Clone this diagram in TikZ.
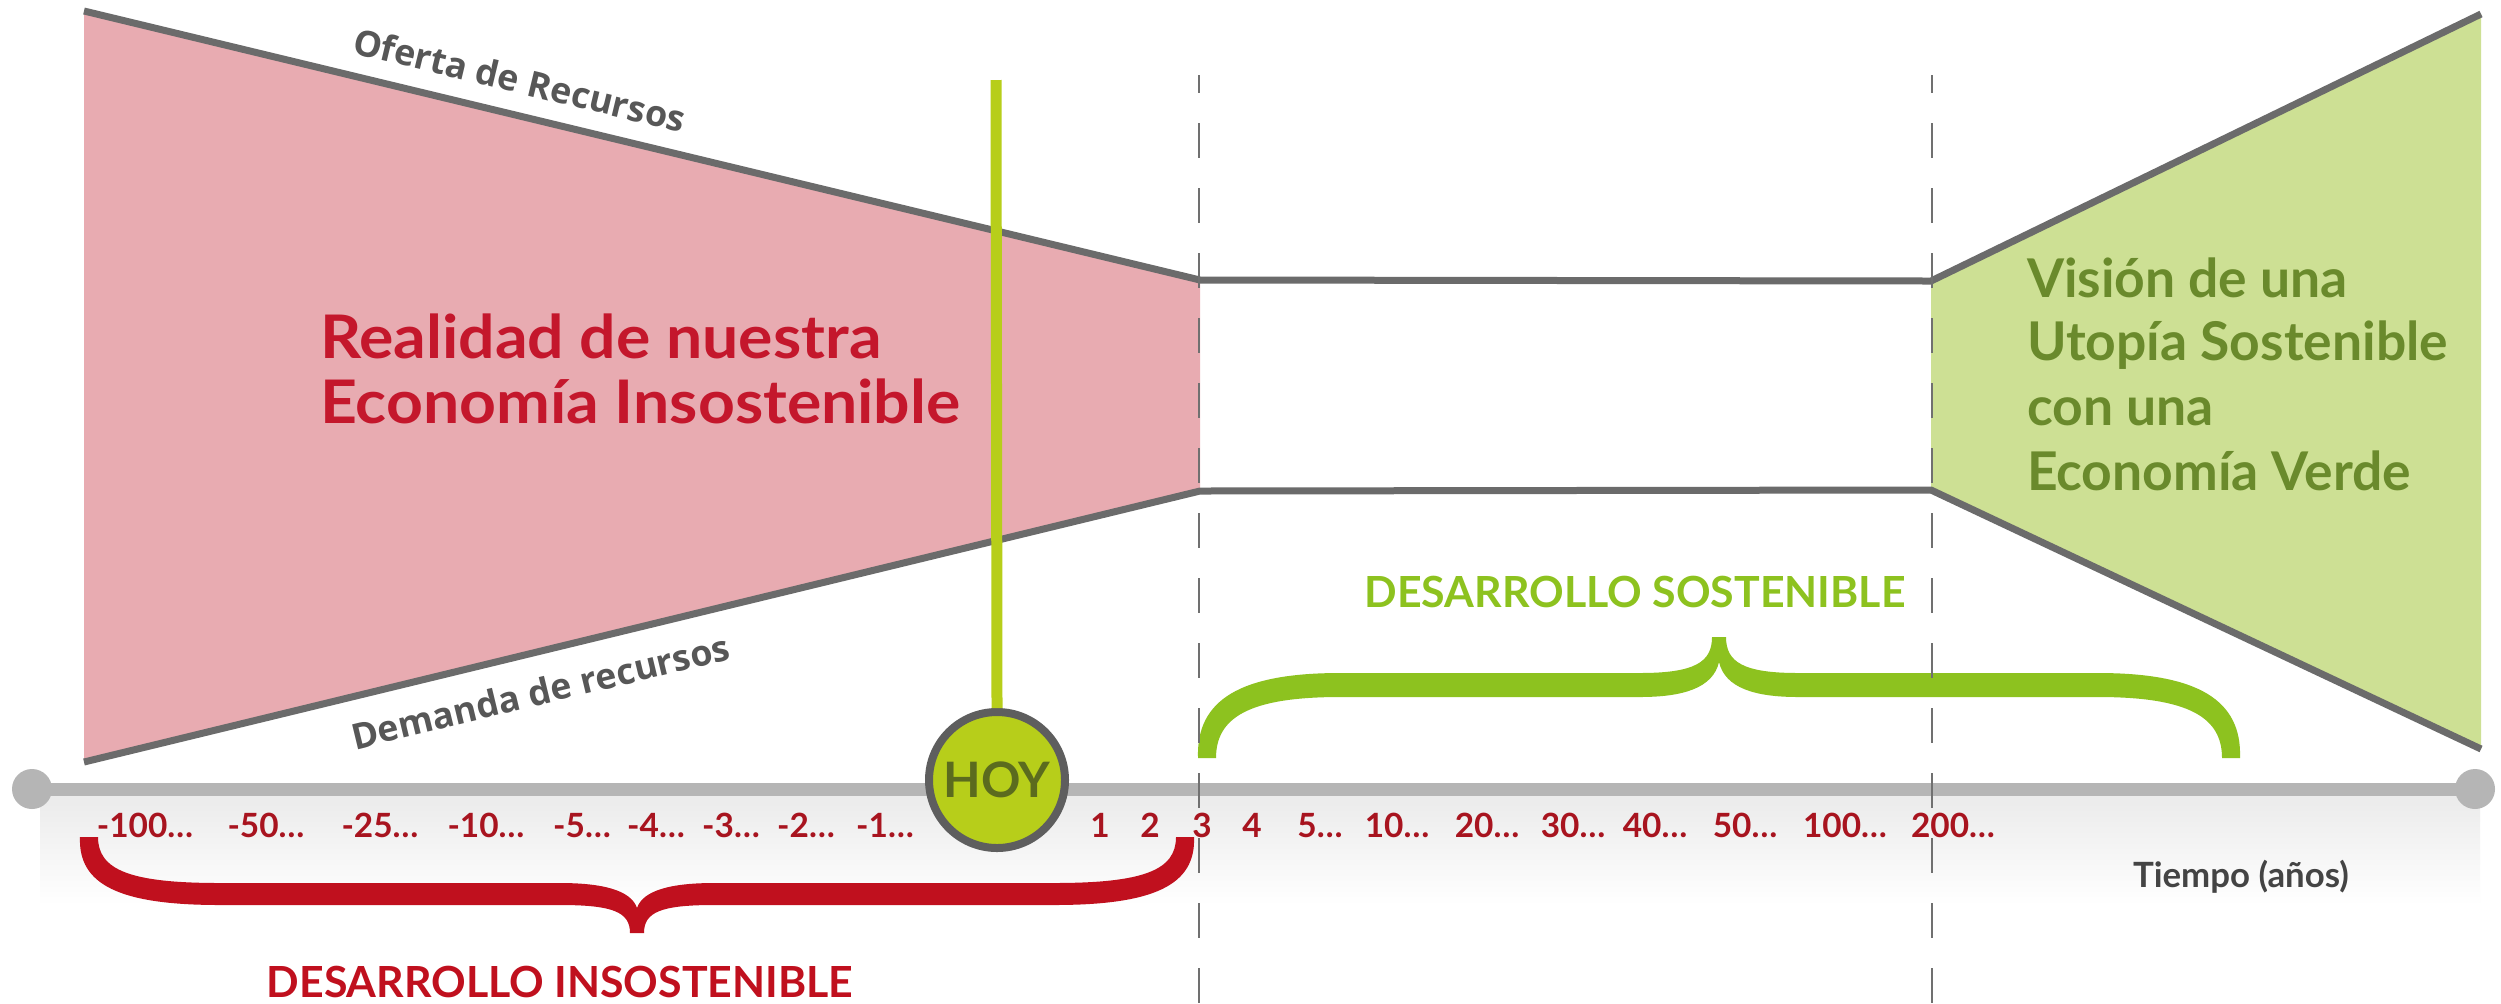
\documentclass[tikz,border=0pt]{standalone}
\usepackage{fontspec}
\setmainfont{Lato}
\newfontfamily\labfont{Open Sans}
\newfontfamily\latowide{Lato}[FakeStretch=1.07]
\definecolor{pinkfill}{HTML}{E8ABB1}
\definecolor{greenfill}{HTML}{CDE094}
\definecolor{linegray}{HTML}{6B6B6B}
\definecolor{redtext}{HTML}{C4172C}
\definecolor{numred}{HTML}{A8141F}
\definecolor{olive}{HTML}{6A8A2C}
\definecolor{lime}{HTML}{8DC21F}
\definecolor{hoygreen}{HTML}{B7CE1A}
\definecolor{bargray}{HTML}{B5B5B5}
\definecolor{ringgray}{HTML}{5E5E5E}
\definecolor{hoytext}{HTML}{5B6B1E}
\definecolor{dashgray}{HTML}{707070}
\definecolor{tgray}{HTML}{444444}
\definecolor{bracered}{HTML}{C0101E}
\begin{document}
\begin{tikzpicture}[x=0.1mm,y=-0.1mm,
  txt/.style={inner sep=0pt, outer sep=0pt},
  bigred/.style={txt, anchor=base west, text=redtext, font=\latowide\fontsize{17.1}{18}\selectfont\bfseries},
  bigolive/.style={txt, anchor=base west, text=olive, font=\fontsize{15.2}{16}\selectfont\bfseries},
  phase/.style={txt, anchor=base, font=\fontsize{12.2}{13}\selectfont\bfseries},
  numlbl/.style={txt, anchor=base, text=numred, font=\fontsize{9.5}{10}\selectfont\bfseries},
  slanted/.style={txt, anchor=base west, text=tgray!90, font=\labfont\fontsize{10.2}{11}\selectfont\bfseries},
  edge/.style={linegray, line width=0.7mm, line join=round},
  vdash/.style={dashgray, line width=0.25mm, dash pattern=on 3.5mm off 3mm, dash phase=1.7mm},
  enddot/.style={circle, fill=bargray, minimum size=4mm, inner sep=0pt}]
\path[use as bounding box, fill=white] (0,0) rectangle (2501,1003);
% light band under the timeline
\shade[top color=gray!16, bottom color=white] (40,795) rectangle (2480,905);
% regions
\fill[pinkfill] (84,11) -- (1200,280) -- (1200,491) -- (84,762) -- cycle;
\fill[greenfill] (1931,281) -- (2481,14) -- (2481,749) -- (1931,490) -- cycle;
\draw[edge] (84,11) -- (1200,280) -- (1931,281) -- (2481,14);
\draw[edge] (84,762) -- (1200,491) -- (1931,490) -- (2481,749);
% timeline
\node[enddot] (ldot) at (32,789) {};
\node[enddot] (rdot) at (2475,789) {};
\draw[bargray, line width=1.3mm] (ldot.center) -- (rdot.center);
% today
\coordinate (vtop) at (996,80);
\node[circle, fill=hoygreen, draw=ringgray, line width=0.8mm, minimum size=13.6mm, inner sep=0pt,
      text=hoytext, font=\fontsize{13.9}{14}\selectfont\bfseries] (hoy) at (997,780) {HOY};
\draw[hoygreen, line width=1.1mm] (vtop) -- (hoy.north);
% braces
\fill[lime] (1198,758) .. controls (1196,700) and (1240,673) .. (1340,673)
  -- (1640,673) .. controls (1695,673) and (1712,662) .. (1712,637)
  -- (1726,637) .. controls (1726,662) and (1743,673) .. (1798,673)
  -- (2098,673) .. controls (2198,673) and (2242,700) .. (2240,758)
  -- (2222,758) .. controls (2222,718) and (2190,697) .. (2098,697)
  -- (1798,697) .. controls (1755,697) and (1725,688) .. (1719,662)
  .. controls (1713,688) and (1683,697) .. (1640,697)
  -- (1340,697) .. controls (1248,697) and (1216,718) .. (1216,758) -- cycle;
\fill[bracered] (80,837) .. controls (78,885) and (120,905) .. (220,905)
  -- (560,905) .. controls (613,905) and (630,912) .. (630,933)
  -- (644,933) .. controls (644,912) and (661,905) .. (714,905)
  -- (1054,905) .. controls (1154,905) and (1196,885) .. (1194,837)
  -- (1176,837) .. controls (1176,870) and (1144,883) .. (1054,883)
  -- (714,883) .. controls (672,883) and (643,890) .. (637,908)
  .. controls (631,890) and (602,883) .. (560,883)
  -- (220,883) .. controls (130,883) and (98,870) .. (98,837) -- cycle;
% dashed guides
\draw[vdash] (1199,75) -- (1199,1003);
\draw[vdash] (1932,75) -- (1932,1003);
% labels
\node[bigred] (r1) at (320,358) {Realidad de nuestra};
\node[bigred] (r2) at (320,423) {Economía Insostenible};
\node[bigolive] (g1) at (2027,297) {Visión de una};
\node[bigolive] (g2) at (2027,360) {Utopía Sostenible};
\node[bigolive] (g3) at (2027,425) {con una};
\node[bigolive] (g4) at (2027,490) {Economía Verde};
\node[slanted, rotate=-13.55] (oferta) at (351,53) {Oferta de Recursos};
\node[slanted, rotate=13.6] (demanda) at (355,750) {Demanda de recursos};
\node[phase, text=lime] (ds) at (1635,607) {DESARROLLO SOSTENIBLE};
\node[phase, text=bracered] (di) at (560,997) {DESARROLLO INSOSTENIBLE};
\node[txt, anchor=base west, text=tgray, font=\fontsize{9.9}{11}\selectfont\bfseries] (tiempo) at (2133,887) {Tiempo (años)};
\foreach \lab/\xx [count=\i] in {-100…/145, -50…/266, -25…/380, -10…/486, -5…/582, -4…/656, -3…/731, -2…/806, -1…/885, 1/1100, 2/1150, 3/1202, 4/1252, 5…/1320, 10…/1397, 20…/1487, 30…/1573, 40…/1655, 50…/1745, 100…/1845, 200…/1953}
  \node[numlbl] (n\i) at (\xx,837) {\lab};
\end{tikzpicture}
\end{document}
